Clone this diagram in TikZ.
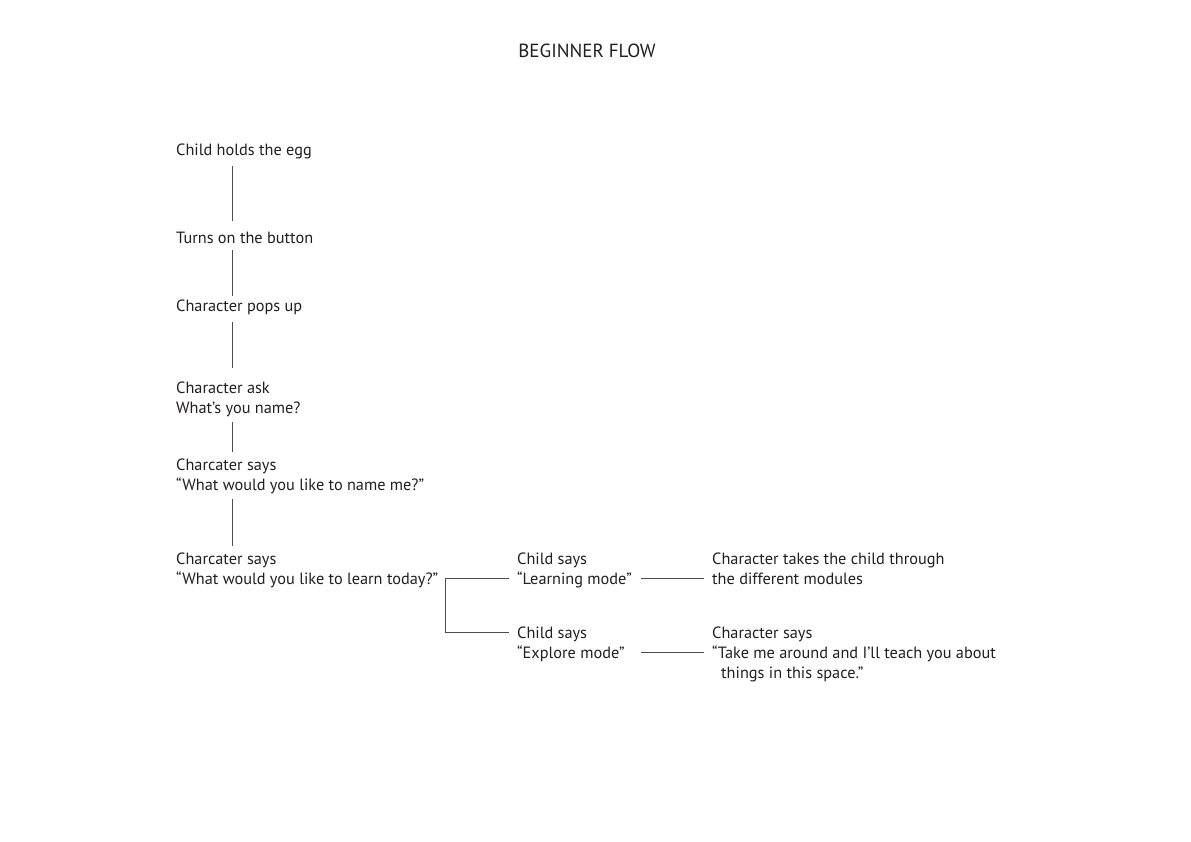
\documentclass[tikz,border=0pt]{standalone}
\usepackage{fontspec}
\setmainfont{PT Sans}
\definecolor{ink}{HTML}{231F20}
\definecolor{wire}{HTML}{4D4D4D}
\begin{document}
\begin{tikzpicture}[x=1pt,y=-1pt,
  txt/.style={inner sep=0pt, anchor=north west, align=left, text=ink,
    font=\fontsize{16.3}{20}\selectfont},
  ttl/.style={inner sep=0pt, anchor=base, text=ink, font=\fontsize{19}{22}\selectfont},
  wireline/.style={draw=wire, line width=1pt}]
\useasboundingbox[fill=white] (0,0) rectangle (1191,842);
\node[ttl] (title) at (587,58) {BEGINNER FLOW};
\node[txt] (egg) at (176,141) {\strut Child holds the egg\strut};
\node[txt] (btn) at (176,229) {\strut Turns on the button\strut};
\node[txt] (pop) at (176,297) {\strut Character pops up\strut};
\node[txt] (ask) at (176,379) {\strut Character ask\\What’s you name?\strut};
\node[txt] (nme) at (176,456) {\strut Charcater says\\“What would you like to name me?”\strut};
\node[txt] (lrn) at (176,550) {\strut Charcater says\\“What would you like to learn today?”\strut};
\node[txt] (lm) at (517,550) {\strut Child says\\“Learning mode”\strut};
\node[txt] (em) at (517,624) {\strut Child says\\“Explore mode”\strut};
\node[txt] (ct) at (712,550) {\strut Character takes the child through\\the different modules\strut};
\node[txt] (cs) at (712,624) {\strut Character says\\“Take me around and I’ll teach you about\\\hspace*{9pt}things in this space.”\strut};
\draw[wireline, shorten <=5pt, shorten >=8pt] ([xshift=56pt]egg.south west) -- ([xshift=56pt]btn.north west);
\draw[wireline, shorten <=1pt, shorten >=1pt] ([xshift=56pt]btn.south west) -- ([xshift=56pt]pop.north west);
\draw[wireline, shorten <=5pt, shorten >=11pt] ([xshift=56pt]pop.south west) -- ([xshift=56pt]ask.north west);
\draw[wireline, shorten <=3pt, shorten >=4pt] ([xshift=56pt]ask.south west) -- ([xshift=56pt]nme.north west);
\draw[wireline, shorten <=3pt, shorten >=4pt] ([xshift=56pt]nme.south west) -- ([xshift=56pt]lrn.north west);
\draw[wireline] ([xshift=-8pt,yshift=-28pt]lm.north west) -- ([xshift=-72pt,yshift=-28pt]lm.north west) |- ([xshift=-8pt,yshift=-8pt]em.north west);
\draw[wireline] ([xshift=124pt,yshift=-28pt]lm.north west) -- ([xshift=-8pt,yshift=-28pt]ct.north west);
\draw[wireline] ([xshift=124pt,yshift=-28pt]em.north west) -- ([xshift=-8pt,yshift=-28pt]cs.north west);
\end{tikzpicture}
\end{document}
